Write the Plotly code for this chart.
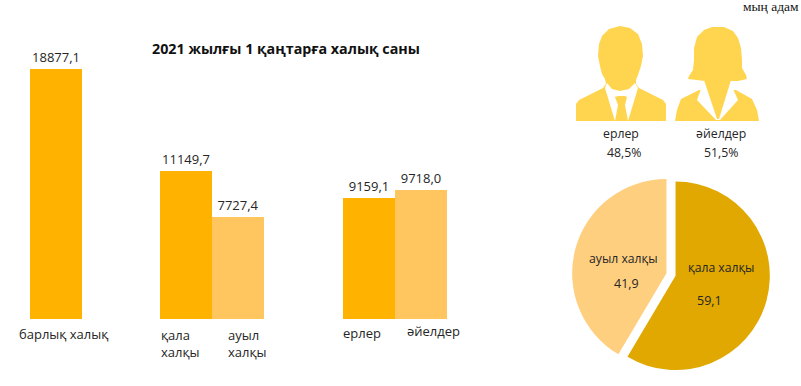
import plotly.graph_objects as go

W, H = 801, 386
FONT = "Open Sans"
TXT = "#262626"

bar_values = [18877.1, 11149.7, 7727.4, 9159.1, 9718.0]
bar_text = ["18877,1", "11149,7", "7727,4", "9159,1", "9718,0"]
bar_labels = ["барлық халық", "қала<br>халқы", "ауыл<br>халқы", "ерлер", "әйелдер"]
pie_labels = ["қала халқы", "ауыл халқы"]
pie_values = [59.1, 41.9]
pie_text = ["59,1", "41,9"]
sex_labels = ["ерлер", "әйелдер"]
sex_shares = ["48,5%", "51,5%"]

# layout (pixels)
bar_centers = [55.5, 186, 238, 369, 420.5]
bar_colors = ["#FFB300", "#FFB300", "#FFC55E", "#FFB300", "#FFC55E"]
PLOT_L, PLOT_R, PLOT_T, PLOT_B = 0, 480, 40, 319
px = lambda x: x / W
py = lambda y: 1 - y / H

fig = go.Figure()
fig.add_bar(x=bar_centers, y=bar_values, width=52, marker=dict(color=bar_colors, line_width=0),
            text=bar_text, textposition="outside", cliponaxis=False,
            textfont=dict(family=FONT, size=13, color=TXT), hoverinfo="skip")
fig.add_pie(labels=pie_labels, values=pie_values, sort=False, direction="clockwise", rotation=0,
            pull=[0.05, 0.05], textinfo="none", marker=dict(colors=["#E0A800", "#FFCF80"], line_width=0),
            domain=dict(x=[px(572), px(770)], y=[py(373.5), py(175.5)]), showlegend=False, hoverinfo="skip")

ann = []
def note(text, x, y, size=13, color=TXT, family=FONT, anchor="center", bold=False):
    ann.append(dict(text=f"<b>{text}</b>" if bold else text, x=px(x), y=py(y), xref="paper", yref="paper",
                    showarrow=False, xanchor=anchor, yanchor="middle", align="left" if anchor == "left" else "center",
                    font=dict(size=size, color=color, family=family)))

note("2021 жылғы 1 қаңтарға халық саны", 286, 48, size=14.3, color="#111111", bold=True)
note("мың адам", 770.5, 6, size=13.5, color="#111111", family="Liberation Serif")
note(bar_labels[0], 63, 334, anchor="center")
note(bar_labels[1], 159, 343, anchor="left")
note(bar_labels[2], 226, 343, anchor="left")
note(bar_labels[3], 362, 333)
note(bar_labels[4], 433, 331)
note(pie_labels[0], 721, 267, size=12.2)
note(pie_text[0], 709, 300, size=12.5)
note(pie_labels[1], 623, 258, size=12.2)
note(pie_text[1], 626, 283, size=12.5)
note(sex_labels[0], 621, 133, size=12.3)
note(sex_shares[0], 624, 152, size=12.3)
note(sex_labels[1], 721, 133, size=12.3)
note(sex_shares[1], 721, 152, size=12.3)

def path(points):
    # decorative silhouettes given in pixel coordinates
    return "M" + " L".join(f"{px(x):.5f},{py(y):.5f}" for x, y in points) + " Z"

GOLD = "#FFD54F"
man = [(576,121),(576,104),(579,100),(603,88),(606,84),(605,79),(602,74),(600,66),(598,56),(599,44),(602,36),
       (609,29),(620,26),(630,28),(638,34),(642,44),(643,56),(641,66),(638,75),(636,80),(636,84),(639,88),(663,100),(666,104),(666,121)]
collar = [(605,88),(615,121),(628,121),(638,88),(635,83),(629,89),(620,91),(612,89),(607,83)]
tie = [(615,97),(618,96),(625,96),(627,97),(625,105),(628,121),(615,121),(618,105)]
jacket = [(675,121),(677,110),(681,99),(699,90),(736,90),(752,99),(757,110),(759,121)]
w_collar = [(701,89),(697,100),(716,120),(720,120),(738,100),(733,89)]
neck = [(704,80),(731,80),(719,119),(717,119)]
hair = [(688,79),(689,76),(693,70),(694,60),(694,48),(697,37),(704,30),(712,27),(724,27),(733,31),(738,38),
        (741,48),(742,60),(742,68),(746,75),(747,79),(738,81),(705,81)]
shapes = [dict(type="path", path=path(p), xref="paper", yref="paper", fillcolor=c, line_width=0, layer="above")
          for p, c in [(man, GOLD), (collar, "#FFFFFF"), (tie, GOLD), (jacket, GOLD), (w_collar, "#FFFFFF"),
                       (neck, GOLD), (hair, GOLD)]]

fig.update_layout(
    width=W, height=H, autosize=False, margin=dict(l=0, r=0, t=0, b=0),
    paper_bgcolor="white", plot_bgcolor="white", showlegend=False,
    bargap=0, annotations=ann, shapes=shapes,
    xaxis=dict(domain=[px(PLOT_L), px(PLOT_R)], range=[PLOT_L, PLOT_R], visible=False, fixedrange=True),
    yaxis=dict(domain=[py(PLOT_B), py(PLOT_T)], range=[0, 18877.1 * (PLOT_B - PLOT_T) / 250], visible=False, fixedrange=True),
)
fig.write_html("out.html", config=dict(displayModeBar=False),
               post_script="document.body.style.margin='0';document.documentElement.style.overflow='hidden';")
